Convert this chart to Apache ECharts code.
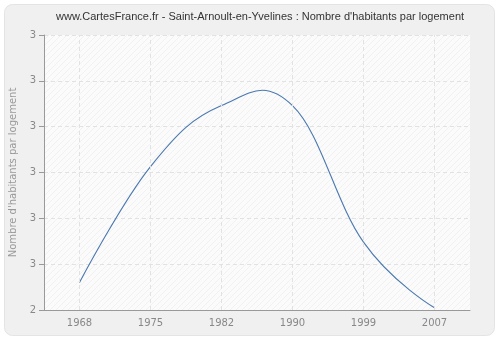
<!DOCTYPE html>
<html><head><meta charset="utf-8">
<script src="https://cdn.jsdelivr.net/npm/echarts@6/dist/echarts.min.js"></script>
<style>html,body{margin:0;padding:0;background:#fff}#c{width:500px;height:340px}</style>
</head><body><div id="c"></div>
<script>
var years = ['1968','1975','1982','1990','1999','2007'];
var values = [2.46, 2.713, 2.846, 2.846, 2.548, 2.405];
var yTicks = [2.4, 2.5, 2.6, 2.7, 2.8, 2.9, 3.0];
var titleText = "www.CartesFrance.fr - Saint-Arnoult-en-Yvelines : Nombre d'habitants par logement";
var yName = "Nombre d'habitants par logement";

var pc = document.createElement('canvas');
pc.width = 6; pc.height = 6;
var g = pc.getContext('2d');
g.fillStyle = '#fbfbfb'; g.fillRect(0,0,6,6);
g.strokeStyle = '#f1f1f1'; g.lineWidth = 1;
g.beginPath(); g.moveTo(0,6); g.lineTo(6,0); g.moveTo(-3,3); g.lineTo(3,-3); g.moveTo(3,9); g.lineTo(9,3); g.stroke();

function controls(api) {
  var pts = values.map(function(v, i){ return api.coord([i, v]); });
  var sm = 1.5, den = sm + 1;
  var out = pts.map(function(p){ return {x:p[0], y:p[1], lx:p[0], ly:p[1], rx:p[0], ry:p[1]}; });
  for (var i = 1; i < pts.length - 1; i++) {
    var a = pts[i-1], p = pts[i], n = pts[i+1];
    var lx = (sm*p[0] + a[0]) / den, ly = (sm*p[1] + a[1]) / den;
    var rx = (sm*p[0] + n[0]) / den, ry = (sm*p[1] + n[1]) / den;
    var corr = 0;
    if (rx !== lx) corr = ((ry - ly) * (rx - p[0])) / (rx - lx) + p[1] - ry;
    out[i].lx = lx; out[i].ly = ly + corr; out[i].rx = rx; out[i].ry = ry + corr;
  }
  return out;
}

var chart = echarts.init(document.getElementById('c'), null, {renderer:'canvas'});
var F = 'DejaVu Sans, Verdana, sans-serif';
chart.setOption({
  animation: false,
  backgroundColor: '#ffffff',
  graphic: [{
    type: 'rect', z: -10, silent: true,
    shape: {x: 4.5, y: 4.5, width: 490, height: 331, r: 8},
    style: {fill: '#f0f0f0', stroke: '#e4e4e4', lineWidth: 1}
  }, {
    type: 'text', z: 10, left: 56, top: 11,
    style: {text: titleText, font: '11px Liberation Sans, Arial, sans-serif', fill: '#333333'}
  }],
  grid: {left: 40, right: 30, top: 35, bottom: 30, show: true,
    backgroundColor: {image: pc, repeat: 'repeat'}, borderWidth: 0},
  xAxis: {
    type: 'category', data: years, boundaryGap: true,
    axisLine: {lineStyle: {color: '#999999'}},
    axisTick: {alignWithLabel: true, length: 5, lineStyle: {color: '#999999'}},
    axisLabel: {color: '#888888', fontSize: 10, fontFamily: F, margin: 8},
    splitLine: {show: false}
  },
  yAxis: {
    type: 'value', min: yTicks[0], max: yTicks[yTicks.length-1], interval: 0.1,
    name: yName, nameLocation: 'middle', nameGap: 26,
    nameTextStyle: {color: '#999999', fontSize: 10, fontFamily: F},
    axisLine: {show: true, lineStyle: {color: '#999999'}},
    axisTick: {show: true, length: 5, lineStyle: {color: '#999999'}},
    axisLabel: {color: '#888888', fontSize: 10, fontFamily: F, margin: 8,
      formatter: function(v){ return String(Math.round(v)); }},
    splitLine: {lineStyle: {color: '#e2e2e2', type: [4,3]}}
  },
  series: [{
    type: 'line', data: values, showSymbol: false,
    lineStyle: {opacity: 0},
    markLine: {
      silent: true, symbol: 'none', label: {show: false},
      lineStyle: {color: '#e2e2e2', type: [4,3], width: 1},
      data: years.map(function(y){ return {xAxis: y}; })
    }
  }, {
    type: 'custom',
    data: values.map(function(v, i){ return [i, v]; }),
    encode: {x: 0, y: 1},
    renderItem: function(params, api) {
      var i = params.dataIndex;
      if (i >= values.length - 1) return null;
      var c = controls(api);
      var a = c[i], b = c[i+1];
      return {
        type: 'bezierCurve',
        shape: {x1: a.x, y1: a.y, cpx1: a.rx, cpy1: a.ry, cpx2: b.lx, cpy2: b.ly, x2: b.x, y2: b.y},
        style: {stroke: '#4a78b0', lineWidth: 1.1, fill: null}
      };
    }
  }]
});
</script></body></html>
